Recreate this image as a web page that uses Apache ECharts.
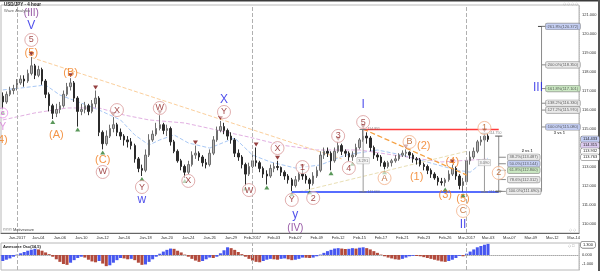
<!DOCTYPE html>
<html><head><meta charset="utf-8">
<script src="https://cdn.jsdelivr.net/npm/echarts/dist/echarts.min.js"></script>
<style>html,body{margin:0;padding:0;background:#fff}#c{width:600px;height:271px}</style>
</head><body><div id="c"></div>
<script>
// ---- time slots (trading days, 3 bars of 8h each) ----
const days = ['Dec-30','Jan-2017','Jan-03','Jan-04','Jan-05','Jan-06','Jan-09','Jan-10','Jan-11','Jan-12',
 'Jan-13','Jan-16','Jan-17','Jan-18','Jan-19','Jan-20','Jan-23','Jan-24','Jan-25','Jan-26',
 'Jan-27','Jan-29','Jan-30','Feb-2017','Feb-02','Feb-03','Feb-06','Feb-07','Feb-08','Feb-09',
 'Feb-10','Feb-12','Feb-14','Feb-15','Feb-16','Feb-17','Feb-20','Feb-21','Feb-22','Feb-23',
 'Feb-24','Feb-26','Feb-27','Mar-2017','Mar-02','Mar-03','Mar-06','Mar-07','Mar-08','Mar-09',
 'Mar-10','Mar-12','Mar-13','Mar-14'];

// ---- USD/JPY candles: [open, close, low, high] ----
const ohlc = [
[116.7,116.4,116.0,116.9],[116.4,116.8,116.3,116.95],[116.8,117.0,116.7,117.2],[117.0,117.1,116.8,117.3],
[117.1,117.4,117.0,117.6],[117.4,117.6,117.3,117.8],[117.6,117.5,117.2,117.8],[117.5,117.9,117.4,118.1],
[117.9,118.3,117.8,118.76],[118.3,117.8,117.6,118.4],[117.8,118.1,117.7,118.3],[118.1,117.5,117.3,118.2],
[117.5,116.8,116.6,117.6],[116.8,116.2,115.9,116.9],[116.2,115.8,115.5,116.3],[115.8,116.0,115.6,116.3],
[116.0,116.2,115.8,116.4],[116.2,116.8,116.1,117.0],[116.8,117.2,116.7,117.4],[117.2,117.4,117.0,117.65],
[117.4,116.6,116.4,117.5],[116.6,115.9,115.1,116.7],[115.9,116.0,115.7,116.3],[116.0,116.2,115.8,116.4],
[116.2,115.9,115.7,116.3],[115.9,116.3,115.8,116.5],[116.3,116.6,116.1,117.0],[116.6,114.8,114.6,116.7],
[114.8,114.2,113.9,114.9],[114.2,114.6,114.1,114.9],[114.6,115.0,114.5,115.2],[115.0,115.2,114.8,115.6],
[115.2,114.8,114.6,115.3],[114.8,114.6,114.4,115.0],[114.6,114.4,114.1,114.7],[114.4,114.3,114.0,114.6],
[114.3,114.1,113.9,114.5],[114.1,113.4,113.2,114.2],[113.4,112.9,112.7,113.5],[112.9,112.8,112.5,113.1],
[112.8,113.6,112.7,113.9],[113.6,114.4,113.5,114.7],[114.4,114.7,114.3,114.9],[114.7,115.0,114.6,115.3],
[115.0,115.2,114.9,115.7],[115.2,114.9,114.7,115.3],[114.9,115.0,114.6,115.2],[115.0,114.3,114.1,115.1],
[114.3,113.8,113.7,114.4],[113.8,113.3,113.2,113.9],[113.3,113.0,112.8,113.4],[113.0,112.7,112.4,113.1],
[112.7,113.1,112.6,113.3],[113.1,113.6,113.0,113.8],[113.6,113.7,113.4,114.1],[113.7,113.5,113.3,113.8],
[113.5,113.2,113.0,113.6],[113.2,113.1,112.9,113.4],[113.1,113.7,113.0,113.9],[113.7,114.4,113.6,114.6],
[114.4,114.9,114.3,115.1],[114.9,115.1,114.8,115.4],[115.1,114.9,114.7,115.3],[114.9,114.6,114.4,115.0],
[114.6,114.4,114.2,114.8],[114.4,113.7,113.5,114.5],[113.7,113.5,113.3,113.9],[113.5,113.1,112.9,113.6],
[113.1,112.6,112.0,113.2],[112.6,113.0,112.5,113.2],[113.0,113.3,112.9,113.6],[113.3,113.2,113.0,114.0],
[113.2,112.9,112.7,113.3],[112.9,112.6,112.4,113.0],[112.6,112.5,112.05,112.8],[112.5,112.9,112.4,113.1],
[112.9,113.0,112.7,113.2],[113.0,112.95,112.8,113.3],[112.95,112.7,112.5,113.0],[112.7,112.5,112.3,112.8],
[112.5,112.3,112.1,112.6],[112.3,112.0,111.7,112.4],[112.0,112.3,111.9,112.5],[112.3,112.6,112.2,112.7],
[112.6,112.5,112.3,112.85],[112.5,112.3,112.1,112.6],[112.3,112.1,111.8,112.4],[112.1,112.5,112.0,112.7],
[112.5,112.8,112.4,113.0],[112.8,113.6,112.7,113.8],[113.6,113.8,113.4,114.0],[113.8,113.7,113.5,114.0],
[113.7,113.3,112.8,113.8],[113.3,113.8,113.2,114.0],[113.8,114.1,113.7,114.3],[114.1,113.8,113.6,114.2],
[113.8,113.7,113.5,113.9],[113.7,113.5,113.3,113.8],[113.5,113.6,113.3,113.8],[113.6,114.0,113.5,114.2],
[114.0,114.4,113.9,114.5],[114.4,114.6,114.3,114.95],[114.6,114.5,114.2,114.8],[114.5,114.0,113.8,114.6],
[114.0,113.6,113.4,114.1],[113.6,113.5,113.3,113.7],[113.5,113.2,113.0,113.6],[113.2,113.0,112.85,113.3],
[113.0,113.2,112.9,113.3],[113.2,113.3,113.0,113.4],[113.3,113.4,113.2,113.6],[113.4,113.6,113.3,113.7],
[113.6,113.7,113.5,113.85],[113.7,113.75,113.5,113.9],[113.75,113.6,113.4,113.8],[113.6,113.4,113.2,113.7],
[113.4,113.35,113.1,113.5],[113.35,113.1,113.0,113.45],[113.1,113.0,112.8,113.2],[113.0,112.8,112.6,113.1],
[112.8,112.6,112.4,112.9],[112.6,112.4,112.3,112.7],[112.4,112.2,112.0,112.5],[112.2,112.15,112.0,112.4],
[112.15,112.3,111.95,112.4],[112.3,112.6,112.2,112.8],[112.6,112.9,112.5,113.1],[112.9,112.5,112.3,113.0],
[112.5,112.0,111.8,112.6],[112.0,112.2,111.65,112.4],[112.2,113.3,112.1,113.5],[113.3,113.5,113.1,113.8],
[113.5,113.8,113.4,114.0],[113.8,114.3,113.7,114.4],[114.3,114.4,114.1,114.6],[114.4,114.6,114.3,114.75],
[114.6,114.43,114.3,114.7]
];

// ---- Awesome Oscillator (34,5) ----
const aoValues = [
-0.7,-0.55,-0.4,-0.2,0.05,0.2,0.35,0.5,0.62,0.72,
0.65,0.5,0.3,0.1,-0.2,-0.5,-0.8,-1.05,-1.15,-0.9,
-0.6,-0.35,-0.2,-0.3,-0.55,-0.75,-0.85,-0.7,-1.0,-1.3,
-1.2,-0.9,-0.6,-0.35,-0.4,-0.5,-0.45,-0.6,-0.9,-1.15,
-1.1,-0.8,-0.5,-0.2,0.15,0.4,0.6,0.75,0.72,0.5,
0.3,0.05,-0.2,-0.45,-0.65,-0.8,-0.7,-0.5,-0.3,-0.35,
-0.2,0.2,0.55,0.9,0.8,0.6,0.35,0.1,-0.2,-0.45,
-0.65,-0.8,-0.85,-0.7,-0.55,-0.45,-0.5,-0.55,-0.45,-0.4,
-0.5,-0.6,-0.55,-0.45,-0.3,-0.32,-0.35,-0.3,-0.15,0.05,
0.25,0.45,0.6,0.75,0.8,0.75,0.7,0.72,0.8,0.75,
0.85,0.9,0.8,0.65,0.45,0.25,0.05,-0.15,-0.3,-0.4,
-0.5,-0.55,-0.45,-0.3,-0.15,-0.1,-0.12,-0.15,-0.25,-0.35,
-0.45,-0.55,-0.65,-0.75,-0.8,-0.7,-0.55,-0.35,-0.1,-0.15,
0.15,0.4,0.65,0.9,1.05,1.2,1.3
];

// ---- pivots [bar index, price] ----
const pivotHighs = [[8,118.76],[19,117.65],[26,117.0],[31,115.6],[44,115.7],[54,114.1],[61,115.4],[71,114.0],
 [77,113.3],[84,112.85],[94,114.3],[101,114.95],[113,113.9],[126,113.1],[135,114.75]];
const pivotLows = [[0,116.0],[14,115.5],[21,115.1],[28,113.9],[39,112.5],[51,112.4],[68,112.0],[74,112.05],
 [81,111.7],[86,111.8],[92,112.8],[98,113.3],[107,112.85],[124,111.95],[129,111.65]];

// ---- moving averages (sampled) ----
const fastMA = [[0,117.03],[5,117.13],[12,117.29],[16,116.76],[22,116.34],[27,115.97],[33,115.45],[37,114.66],
 [41,114.13],[44,114.4],[48,114.66],[52,114.24],[58,113.97],[65,114.5],[70,113.6],[75,113.24],[82,112.92],
 [89,113.08],[96,113.6],[105,113.87],[112,113.6],[120,113.18],[127,112.82],[131,112.7],[136,113.45]];
const slowMA = [[0,115.45],[9,115.82],[18,116.08],[27,116.08],[34,115.71],[41,115.45],[51,115.29],[60,114.92],
 [69,114.55],[78,114.13],[88,113.87],[100,113.87],[115,113.45],[123,113.24],[131,113.34],[136,113.39]];

// ---- trend lines / levels ----
const longTrend = [[8,118.74],[95,113.4]];
const waveTrend = [[101,114.97],[130,112.55]];
const riseTrend = [[83,111.66],[130,113.8]];
const resistanceLevel = [[101,114.95],[139,114.95]];
const supportLevel = [[81,111.66],[139,111.66]];

// ---- wave labels [bar index, price, text] ----
const circledWave = [[8,119.66,'5'],[28,112.71,'W'],[32,115.97,'X'],[39,111.92,'Y'],[44,116.08,'W'],[52,112.24,'X'],
 [62,115.87,'Y'],[69,111.76,'W'],[77,113.97,'X'],[84,112.97,'1'],[81,111.24,'Y'],[87,111.34,'2'],[94,114.61,'3'],
 [97,112.92,'4'],[101,115.34,'5']];
const circledMinor = [[107,112.39,'A'],[114,114.29,'B'],[129,110.66,'C'],[135,115.03,'1'],[139,112.66,'2']];
const orangeWave = [[8,118.97,'(5)'],[15,114.66,'(A)'],[19,117.92,'(B)'],[28,113.34,'(C)'],[116,112.45,'(1)'],
 [118,114.08,'(2)'],[124,111.5,'(3)'],[126,113.24,'(4)'],[129,111.29,'(5)'],[0,114.4,'4)']];
const blueWave = [[8,120.39,'V'],[39,111.24,'w'],[62,116.5,'X'],[82,110.45,'y'],[101,116.24,'I'],[129,109.92,'II'],[150,117.13,'III']];
const purpleWave = [[8,121.08,'(III)'],[82,109.76,'(IV)']];
const pinkText = [[0,115.08,'Y']];
const pinkCircled = [[0,115.82,'c']];

// ---- Fibonacci tools ----
const fibExtension = [['261.8%',120.372],['200.0%',118.350],['161.8%',117.101],['138.2%',116.330],['127.2%',115.970],['100.0%',115.080]];
const fibRetrace = [['38.2%',113.487],['50.0%',113.144],['61.8%',112.800],['78.6%',112.312],['100.0%',111.690]];
const fibExtBar = 151, fibRetBar = 139, fibExtLabelBar = 157, fibRetLabelBar = 146;
const fibRetTop = 114.6;
const measures = [[101,114.951,111.660],[135,114.750,111.660]];
const priceTags = [114.433,114.315,113.932,113.763];
const aoTag = 1.3;

// ================= build =================
const categories = [];
days.forEach(d => { for (let k = 0; k < 3; k++) categories.push(d + '#' + k); });
const isLabelIdx = i => i % 6 === 4;
const FONT = 'Liberation Sans';

function lineSeries(data, color, type, width, z) {
  return { type:'line', xAxisIndex:0, yAxisIndex:0, data, showSymbol:false, symbol:'none', silent:true,
    lineStyle:{color, type, width}, z: z || 3, animation:false };
}
function textSeries(data, label, sym) {
  return { type:'scatter', xAxisIndex:0, yAxisIndex:0, silent:true, z:8,
    data: data.map(d => ({ value:[d[0], d[1]], name:d[2] })),
    symbol: sym ? 'circle' : 'circle', symbolSize: sym ? sym.size : 1,
    itemStyle: sym ? sym.itemStyle : { color:'transparent' },
    label: Object.assign({ show:true, position:'inside', formatter:'{b}', fontFamily:FONT }, label) };
}

const series = [];
// candles
series.push({ type:'candlestick', xAxisIndex:0, yAxisIndex:0, data: ohlc, barWidth:2, z:4,
  itemStyle:{ color:'#b4b4b4', color0:'#2b2b2b', borderColor:'#6e6e6e', borderColor0:'#2b2b2b', borderWidth:1 },
  markLine:{ silent:true, symbol:['none','none'], label:{show:false}, animation:false,
    lineStyle:{type:'dashed', color:'#b0b0b0', width:1},
    data:[{xAxis:categories[4]},{xAxis:categories[70]},{xAxis:categories[130]}] } });
series.push(lineSeries(fastMA, '#a8c8f5', 'dashed', 1, 2));
series.push(lineSeries(slowMA, '#e2b0e2', 'dashed', 1, 2));
series.push(lineSeries(longTrend, '#fbcf9c', 'dashed', 1, 2));
series.push(lineSeries(riseTrend, '#e9dfb4', 'dashed', 1, 2));
series.push(lineSeries(waveTrend, '#f5a040', 'dashed', 1.3, 5));
series.push(lineSeries(resistanceLevel, '#ff3b3b', 'solid', 1.6, 5));
series.push(lineSeries(supportLevel, '#1f3cff', 'solid', 1.6, 5));

// fib lines
series.push(lineSeries([[fibExtBar, fibExtension[0][1]],[fibExtBar, fibRetrace[fibRetrace.length-1][1]]], '#8a8a8a','solid',1,5));
series.push(lineSeries([[fibExtBar-1, fibExtension[0][1]],[fibExtBar+1, fibExtension[0][1]]], '#444','solid',1,5));
series.push(lineSeries([[fibRetBar, fibRetTop],[fibRetBar, fibRetrace[fibRetrace.length-1][1]]], '#8a8a8a','solid',1,5));
series.push(lineSeries([[fibRetBar-1, fibRetTop],[fibRetBar+1, fibRetTop]], '#555','solid',1,5));
series.push(lineSeries([[fibRetBar-1, fibRetrace[4][1]],[fibRetBar+1, fibRetrace[4][1]]], '#555','solid',1,5));
fibExtension.forEach(f => series.push(lineSeries([[fibExtBar, f[1]],[fibExtBar+2, f[1]]], '#8a8a8a','solid',1,5)));
fibRetrace.forEach(f => series.push(lineSeries([[fibRetBar, f[1]],[fibRetBar+2, f[1]]], '#8a8a8a','solid',1,5)));
series.push(lineSeries([[fibRetLabelBar+4, fibRetrace[4][1]],[fibExtBar, fibRetrace[4][1]]], '#8a8a8a','solid',1,5));
// measure lines
measures.forEach(m => {
  series.push(lineSeries([[m[0], m[1]],[m[0], m[2]]], '#9a9a9a','solid',1,5));
  series.push(lineSeries([[m[0]-1, m[1]],[m[0]+1, m[1]]], '#777','solid',1,5));
  series.push(lineSeries([[m[0]-1, m[2]],[m[0]+1, m[2]]], '#777','solid',1,5));
});
series.push({ type:'scatter', xAxisIndex:0, yAxisIndex:0, silent:true, z:7, symbolSize:1, itemStyle:{color:'transparent'},
  data: measures.map(m => ({ value:[m[0], (m[1]+m[2])/2], name:(m[1]-m[2]).toFixed(3) })),
  label:{ show:true, position:'inside', formatter:'{b}', fontSize:4, fontFamily:FONT, color:'#555',
    backgroundColor:'#f4f4f4', borderColor:'#aaa', borderWidth:0.5, padding:[1,1] } });
series.push({ type:'scatter', xAxisIndex:0, yAxisIndex:0, silent:true, z:7, symbolSize:1, itemStyle:{color:'transparent'},
  data: measures.flatMap(m => [{ value:[m[0]+3, m[1]], name:m[1].toFixed(3) }, { value:[m[0]+3, m[2]], name:m[2].toFixed(3) }]),
  label:{ show:true, position:'inside', formatter:'{b}', fontSize:3.5, fontFamily:FONT, color:'#666' } });

// fib labels
const extFill = ['#b9c5f2','#e6e6e6','#bfe3b5','#e6e6e6','#e6e6e6','#b9c5f2'];
const retFill = ['#e6e6e6','#b9c5f2','#bfe3b5','#e6e6e6','#e6e6e6'];
function fibLabels(levels, bar, fills) {
  return { type:'scatter', xAxisIndex:0, yAxisIndex:0, silent:true, z:9, symbolSize:1, itemStyle:{color:'transparent'},
    data: levels.map((f, k) => ({ value:[bar, f[1]], name: f[0] + '(' + f[1].toFixed(3) + ')',
      label:{ backgroundColor: fills[k] } })),
    label:{ show:true, position:'inside', formatter:'{b}', fontSize:4, fontFamily:FONT, color:'#333',
      borderColor:'#8a8a8a', borderWidth:0.6, borderRadius:1.5, padding:[1,2] } };
}
series.push(fibLabels(fibExtension, fibExtLabelBar, extFill));
series.push(fibLabels(fibRetrace, fibRetLabelBar, retFill));
series.push(textSeries([[fibExtLabelBar-1, 114.76, '3 vs 1'],[fibRetLabelBar+1, 113.82, '2 vs 1']],
  { fontSize:4, fontWeight:'bold', color:'#222' }));

// pivots
series.push({ type:'scatter', xAxisIndex:0, yAxisIndex:0, data:pivotHighs, symbol:'triangle', symbolRotate:180,
  symbolSize:[5,4], symbolOffset:[0,-3], itemStyle:{color:'#7a1010'}, z:6, silent:true });
series.push({ type:'scatter', xAxisIndex:0, yAxisIndex:0, data:pivotLows, symbol:'triangle',
  symbolSize:[5,4], symbolOffset:[0,3], itemStyle:{color:'#2f7d2f'}, z:6, silent:true });

// wave labels
series.push(textSeries(circledWave, { fontSize:9, color:'#8b1a1a' },
  { size:13, itemStyle:{ color:'rgba(255,255,255,0.75)', borderColor:'#d99a9a', borderWidth:1 } }));
series.push(textSeries(circledMinor, { fontSize:9, color:'#b5561c' },
  { size:13, itemStyle:{ color:'rgba(255,255,255,0.75)', borderColor:'#f2b088', borderWidth:1 } }));
series.push(textSeries(pinkCircled, { fontSize:8, color:'#d445d4' },
  { size:10, itemStyle:{ color:'rgba(255,255,255,0.75)', borderColor:'#e890e8', borderWidth:1 } }));
series.push(textSeries(orangeWave, { fontSize:11, color:'#f07a1a' }));
series.push(textSeries(blueWave, { fontSize:12, color:'#2323e6' }));
series.push(textSeries(purpleWave, { fontSize:10, color:'#7a2b8c' }));
series.push(textSeries(pinkText, { fontSize:10, color:'#d67ad6' }));

// AO
series.push({ type:'bar', xAxisIndex:1, yAxisIndex:1, data:aoValues, barCategoryGap:'15%', silent:true,
  itemStyle:{ color: p => (p.dataIndex === 0 || aoValues[p.dataIndex] >= aoValues[p.dataIndex-1]) ? '#4757f0' : '#b24a3c' },
  markLine:{ silent:true, symbol:['none','none'], label:{show:false}, animation:false,
    lineStyle:{type:'dashed', color:'#b0b0b0', width:1},
    data:[{xAxis:categories[4]},{xAxis:categories[70]},{xAxis:categories[130]}] } });

const chart = echarts.init(document.getElementById('c'), null, { renderer:'canvas' });
const option = {
  animation:false,
  backgroundColor:'#ffffff',
  grid:[
    { left:1, right:21, top:5, height:228, show:true, borderColor:'#b8b8b8', borderWidth:1, containLabel:false, outerBoundsMode:'none' },
    { left:1, right:21, top:243, height:27, show:true, borderColor:'#b8b8b8', borderWidth:1, containLabel:false, outerBoundsMode:'none' }
  ],
  xAxis:[
    { type:'category', gridIndex:0, data:categories, boundaryGap:true,
      axisLine:{ lineStyle:{ color:'#666' } },
      axisTick:{ interval:(i)=>isLabelIdx(i), alignWithLabel:true, length:2, lineStyle:{ color:'#666' } },
      axisLabel:{ interval:(i)=>isLabelIdx(i), formatter:v=>v.split('#')[0], fontSize:4, fontFamily:FONT, color:'#333', margin:3 },
      splitLine:{ show:false } },
    { type:'category', gridIndex:1, data:categories, boundaryGap:true,
      axisLine:{ show:true, onZero:true, lineStyle:{ color:'#aaa', type:'dotted' } },
      axisTick:{ show:false }, axisLabel:{ show:false }, splitLine:{ show:false } }
  ],
  yAxis:[
    { type:'value', gridIndex:0, position:'right', min:109.5, max:121.5, interval:0.5,
      axisLine:{ show:true, lineStyle:{ color:'#bdbdbd', type:'dotted' } }, axisTick:{ show:false },
      splitLine:{ show:false },
      axisLabel:{ fontSize:4, fontFamily:FONT, color:'#333', margin:3,
        formatter:v => (Math.abs(v - Math.round(v)) < 1e-6) ? v.toFixed(3) : '' } },
    { type:'value', gridIndex:1, position:'right', min:-1.75, max:1.4, interval:0.25,
      axisLine:{ show:true, lineStyle:{ color:'#bdbdbd', type:'dotted' } }, axisTick:{ show:false },
      splitLine:{ show:false },
      axisLabel:{ fontSize:4, fontFamily:FONT, color:'#333', margin:3,
        formatter:v => Math.abs(v) < 1e-6 ? '0.000' : (Math.abs(v + 1) < 1e-6 ? '-1.000' : '') } }
  ],
  series
};
chart.setOption(option);

// annotations placed through the axes' scales
const graphics = [
  { type:'rect', shape:{ x:0, y:0, width:600, height:1.5 }, style:{ fill:'#3a3a3a' }, z:100 },
  { type:'rect', shape:{ x:598, y:0, width:2, height:271 }, style:{ fill:'#555' }, z:100 },
  { type:'text', style:{ text:'USD/JPY - 4 hour', x:4, y:2, font:'bold 4.5px ' + FONT, fill:'#222' }, z:100 },
  { type:'text', style:{ text:'Wave Analysis', x:4, y:8.5, font:'4px ' + FONT, fill:'#666' }, z:100 },
  { type:'text', style:{ text:'\u25C7 \u25C7 \u25C7 \u25C7', x:563, y:2, font:'4px ' + FONT, fill:'#aaa' }, z:100 },
  { type:'text', style:{ text:'\u00A9\u00A9\u00A9 Motivewave', x:3, y:228, font:'4px ' + FONT, fill:'#444' }, z:100 },
  { type:'text', style:{ text:'\u25C7 \u25C7', x:569, y:228, font:'4px ' + FONT, fill:'#aaa' }, z:100 },
  { type:'text', style:{ text:'Awesome Osc(34,5)', x:3, y:245, font:'bold 4px ' + FONT, fill:'#222' }, z:100 },
  { type:'text', style:{ text:'\u25C7 \u25A1', x:568, y:243.5, font:'4px ' + FONT, fill:'#999' }, z:100 }
];
const tagFills = ['#c3cdf4','#dccbf0','#ffffff','#ffffff'];
let prevY = -100;
priceTags.forEach((v, k) => {
  let y = chart.convertToPixel({ yAxisIndex:0 }, v);
  if (y < prevY + 6) y = prevY + 6;
  prevY = y;
  graphics.push({ type:'text', z:110, style:{ text:v.toFixed(3), x:581, y:y, verticalAlign:'middle',
    font:'4px ' + FONT, fill:'#222', backgroundColor:tagFills[k], borderColor:'#777', borderWidth:0.6,
    borderRadius:1.5, padding:[1,2] } });
});
const aoY = chart.convertToPixel({ yAxisIndex:1 }, aoTag);
graphics.push({ type:'text', z:110, style:{ text:aoTag.toFixed(3), x:581, y:aoY + 1, verticalAlign:'middle',
  font:'4px ' + FONT, fill:'#222', backgroundColor:'#ffffff', borderColor:'#555', borderWidth:0.6,
  borderRadius:1.5, padding:[1,2] } });
chart.setOption({ graphic: graphics });
</script>
</body></html>
